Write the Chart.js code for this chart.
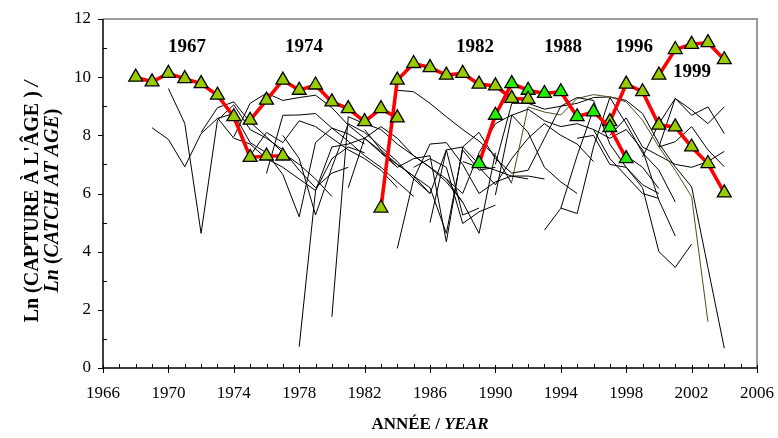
<!DOCTYPE html>
<html><head><meta charset="utf-8">
<script src="https://cdn.jsdelivr.net/npm/chart.js@4.4.1/dist/chart.umd.min.js"></script>
<style>html,body{margin:0;padding:0;background:#fff}#c{display:block}</style>
</head><body>
<canvas id="c" width="778" height="438"></canvas>
<script>
// ---- axis ticks ----
const xTickYears = [1966,1970,1974,1978,1982,1986,1990,1994,1998,2002,2006];
const yTickValues = [0,2,4,6,8,10,12];

// ---- highlighted cohorts (first year of catch, ln catch-at-age) ----
const cohortNames = ['1967','1974','1982','1988','1996','1999'];
const cohortStart = [1968, 1975, 1983, 1989, 1997, 2000];
const c1967 = [10.0, 9.84, 10.13, 9.95, 9.78, 9.38, 8.64, 7.24, 7.29, 7.29];
const c1974 = [8.52, 9.21, 9.9, 9.55, 9.73, 9.15, 8.92, 8.47, 8.92, 8.6];
const c1982 = [5.5, 9.9, 10.47, 10.33, 10.07, 10.13, 9.76, 9.7, 9.27, 9.24];
const c1988 = [7.03, 8.69, 9.78, 9.55, 9.44, 9.5, 8.64, 8.81, 8.27, 7.2];
const c1996 = [8.47, 9.76, 9.5, 8.35, 8.29, 7.6, 7.03, 6.02];
const c1999 = [10.07, 10.95, 11.13, 11.19, 10.6];

// ---- other cohorts (thin lines): first year and values ----
const otherStarts = [1969,1970,1972,1974,1976,1975,1978,1977,1980,1981,1973,
                     1984,1984,1982,1983,1985,1985,1986,1990,1990,1991,1992,
                     1993,1994,1996,1995,1997,1999,2000,2000,1987,1988];
const otherValues = [
  [8.26, 7.86, 6.92, 8.06, 8.58, 8.75, 7.75, 7.4, 6.65, 5.2, 7.75, 8.25, 8.05, 7.7],
  [9.61, 8.41, 4.63, 8.52, 9.05, 8.2, 7.9, 7.5, 6.8, 6.2, 6.7, 6.9],
  [8.1, 8.95, 9.15, 8.45, 7.95, 7.4, 7.0, 6.5, 5.9],
  [7.95, 9.1, 9.45, 9.2, 9.3, 9.38, 8.95, 8.35, 7.9, 7.45, 6.9],
  [6.69, 8.69, 8.7, 8.75, 8.25, 7.8, 7.3, 6.9, 6.4, 5.9],
  [7.3, 8.1, 7.75, 8.5, 8.3, 7.9, 7.5, 7.2, 6.8, 6.2],
  [0.73, 6.1, 7.6, 7.7, 7.9, 7.4, 7.0, 6.6, 6.0],
  [8.0, 7.2, 5.26, 6.9, 8.4, 8.1, 7.6, 7.1, 6.5],
  [1.76, 8.64, 8.4, 8.2, 7.7, 7.3, 6.9, 6.5, 5.7],
  [6.2, 7.9, 8.3, 7.9, 7.3, 6.9, 6.4, 5.7, 4.63, 7.4],
  [8.6, 7.9, 7.7, 7.2, 6.9, 6.5, 6.1, 7.2, 7.6, 7.4],
  [4.11, 6.5, 7.7, 7.75, 7.0, 6.0, 6.4, 6.6, 6.5],
  [9.55, 9.5, 9.1, 8.64, 8.2, 7.8, 7.3, 6.35],
  [8.2, 7.5, 7.0, 6.6, 6.2, 4.63, 7.5, 6.8, 6.9],
  [7.4, 6.9, 7.2, 7.3, 4.34, 7.6, 8.1, 7.2, 6.7, 6.8],
  [6.9, 7.2, 6.9, 4.97, 5.37, 5.6],
  [6.5, 6.0, 7.5, 5.26, 5.5],
  [5.0, 7.5, 7.6, 7.0, 6.8, 6.6, 6.6, 6.5],
  [5.95, 8.69, 8.9, 8.5, 8.3, 8.4, 8.2, 7.9, 8.2, 7.5, 5.77, 4.54],
  [7.0, 9.1, 9.1, 8.9, 9.0, 9.3, 9.2, 7.7, 6.9, 6.2, 4.0, 3.46, 4.26],
  [6.4, 8.98, 8.8, 8.7, 9.27, 9.4, 9.32, 9.15, 8.52, 7.6, 6.8, 5.89, 1.59],
  [6.8, 7.9, 9.0, 9.1, 9.3, 9.32, 9.2, 8.75, 7.72, 6.92, 6.23, 3.45, 0.68],
  [4.74, 5.49, 7.3, 8.9, 8.2, 7.3, 6.9, 6.17],
  [5.5, 5.31, 7.6, 9.3, 8.4, 7.4, 6.8, 5.71],
  [8.2, 7.2, 6.6, 6.0, 5.83],
  [7.9, 8.0, 7.0, 6.9, 6.3, 6.0],
  [8.0, 8.6, 7.6, 7.3, 7.0, 6.9, 7.1, 7.45],
  [7.26, 8.4, 9.27, 8.69, 8.98, 8.06],
  [7.6, 7.78, 8.3, 7.5, 6.92],
  [7.6, 9.27, 8.87, 8.4, 8.98],
  [6.5, 6.0, 7.4, 8.4, 8.7, 8.1, 6.9, 6.4, 6.0],
  [7.1, 6.9, 6.3, 7.2, 7.9, 8.4, 8.0, 7.7, 7.1]
];

// ---- styling ----
const serif = '"Liberation Serif", "Times New Roman", serif';
const olive = '#99cc00';
const brightGreen = '#22ee00';
const cohortSeries = [c1967, c1974, c1982, c1988, c1996, c1999];
const cohortFill = [olive, olive, olive, brightGreen, olive, olive];
const labelPlacement = { // label anchor (year, value) for each cohort label
  '1967': [1971.14, 11.03], '1974': [1978.29, 11.03], '1982': [1988.75, 11.03],
  '1988': [1994.13, 11.03], '1996': [1998.48, 11.03], '1999': [2002.02, 10.19]
};

function toPoints(start, vals) { return vals.map((v, i) => ({x: start + i, y: v})); }

const datasets = [];
cohortSeries.forEach((vals, i) => {
  datasets.push({
    label: 'Cohorte ' + cohortNames[i],
    data: toPoints(cohortStart[i], vals),
    borderColor: '#ff0000', borderWidth: 3.6,
    pointStyle: 'triangle', pointRadius: 8, pointBackgroundColor: cohortFill[i],
    pointBorderColor: '#000', pointBorderWidth: 1.3,
    order: 0, tension: 0
  });
});
otherValues.forEach((vals, i) => {
  datasets.push({
    label: 'c' + i,
    data: toPoints(otherStarts[i], vals),
    borderColor: i === 20 ? '#4d4d1a' : '#000', borderWidth: 1,
    pointRadius: 0, order: 1, tension: 0
  });
});

const decor = {
  id: 'decor',
  afterDraw(chart) {
    const {ctx, chartArea: a, scales: {x, y}} = chart;
    ctx.save();
    // top & right border (grey)
    ctx.strokeStyle = '#9a9a9a'; ctx.lineWidth = 2;
    ctx.beginPath(); ctx.moveTo(a.left, a.top); ctx.lineTo(a.right, a.top); ctx.lineTo(a.right, a.bottom); ctx.stroke();
    // left & bottom axis lines
    ctx.strokeStyle = '#000'; ctx.lineWidth = 1.5;
    ctx.beginPath(); ctx.moveTo(a.left, a.top); ctx.lineTo(a.left, a.bottom); ctx.lineTo(a.right, a.bottom); ctx.stroke();
    ctx.lineWidth = 1;
    // y ticks
    for (let v = 0; v <= 12; v++) {
      const py = Math.round(y.getPixelForValue(v)) + 0.5;
      ctx.beginPath();
      if (v % 2 === 0) { ctx.moveTo(a.left - 5, py); ctx.lineTo(a.left, py); }
      else { ctx.moveTo(a.left, py); ctx.lineTo(a.left + 4, py); }
      ctx.stroke();
    }
    // x ticks
    for (let yr = 1966; yr <= 2006; yr++) {
      const px = Math.round(x.getPixelForValue(yr)) + 0.5;
      ctx.beginPath();
      if ((yr - 1966) % 4 === 0) { ctx.moveTo(px, a.bottom - 3); ctx.lineTo(px, a.bottom + 5); }
      else { ctx.moveTo(px, a.bottom - 4); ctx.lineTo(px, a.bottom); }
      ctx.stroke();
    }
    // cohort labels
    ctx.fillStyle = '#000';
    ctx.font = 'bold 19px ' + serif;
    ctx.textAlign = 'center'; ctx.textBaseline = 'middle';
    cohortNames.forEach(n => {
      const p = labelPlacement[n];
      ctx.fillText(n, x.getPixelForValue(p[0]), y.getPixelForValue(p[1]));
    });
    // mixed-font text helper
    function drawRuns(runs, cx, cy) {
      let w = 0;
      runs.forEach(r => { ctx.font = r[1]; w += ctx.measureText(r[0]).width; });
      let sx = cx - w / 2;
      ctx.textAlign = 'left';
      runs.forEach(r => { ctx.font = r[1]; ctx.fillText(r[0], sx, cy); sx += ctx.measureText(r[0]).width; });
    }
    const BX = 'bold 17px ' + serif, BIX = 'italic bold 17px ' + serif;
    const B = 'bold 20px ' + serif, BI = 'italic bold 20px ' + serif;
    // x title
    drawRuns([['ANNÉE / ', BX], ['YEAR', BIX]], (a.left + a.right) / 2, 425);
    // y title (rotated)
    ctx.save();
    ctx.translate(33, (a.top + a.bottom) / 2 + 8);
    ctx.rotate(-Math.PI / 2);
    drawRuns([['Ln (CAPTURE À L\'ÂGE ) ', B], ['/', BI]], 0, 0);
    ctx.restore();
    ctx.save();
    ctx.translate(53, (a.top + a.bottom) / 2 + 7);
    ctx.rotate(-Math.PI / 2);
    drawRuns([['Ln', BI], [' (', B], ['CATCH AT AGE', BI], [')', B]], 0, 0);
    ctx.restore();
    ctx.restore();
  }
};

new Chart(document.getElementById('c'), {
  type: 'line',
  data: { datasets },
  options: {
    responsive: false, animation: false, devicePixelRatio: 1,
    layout: { padding: { left: 0, top: 19, right: 21, bottom: 0 } },
    plugins: { legend: { display: false }, tooltip: { enabled: false } },
    elements: { line: { borderJoinStyle: 'miter' } },
    scales: {
      x: {
        type: 'linear', min: 1966, max: 2006,
        afterBuildTicks: s => { s.ticks = xTickYears.map(v => ({value: v})); },
        afterFit: s => { s.height = 70; s.paddingLeft = 0; s.paddingRight = 0; },
        grid: { display: false, drawTicks: false }, border: { display: false },
        ticks: { padding: 15, maxRotation: 0, autoSkip: false, color: '#000',
                 font: { family: serif, size: 17 }, callback: v => String(v) }
      },
      y: {
        min: 0, max: 12,
        afterBuildTicks: s => { s.ticks = yTickValues.map(v => ({value: v})); },
        afterFit: s => { s.width = 103; s.paddingTop = 0; s.paddingBottom = 0; },
        grid: { display: false, drawTicks: false }, border: { display: false },
        ticks: { padding: 12, color: '#000', font: { family: serif, size: 17 } }
      }
    }
  },
  plugins: [decor]
});
</script>
</body></html>
